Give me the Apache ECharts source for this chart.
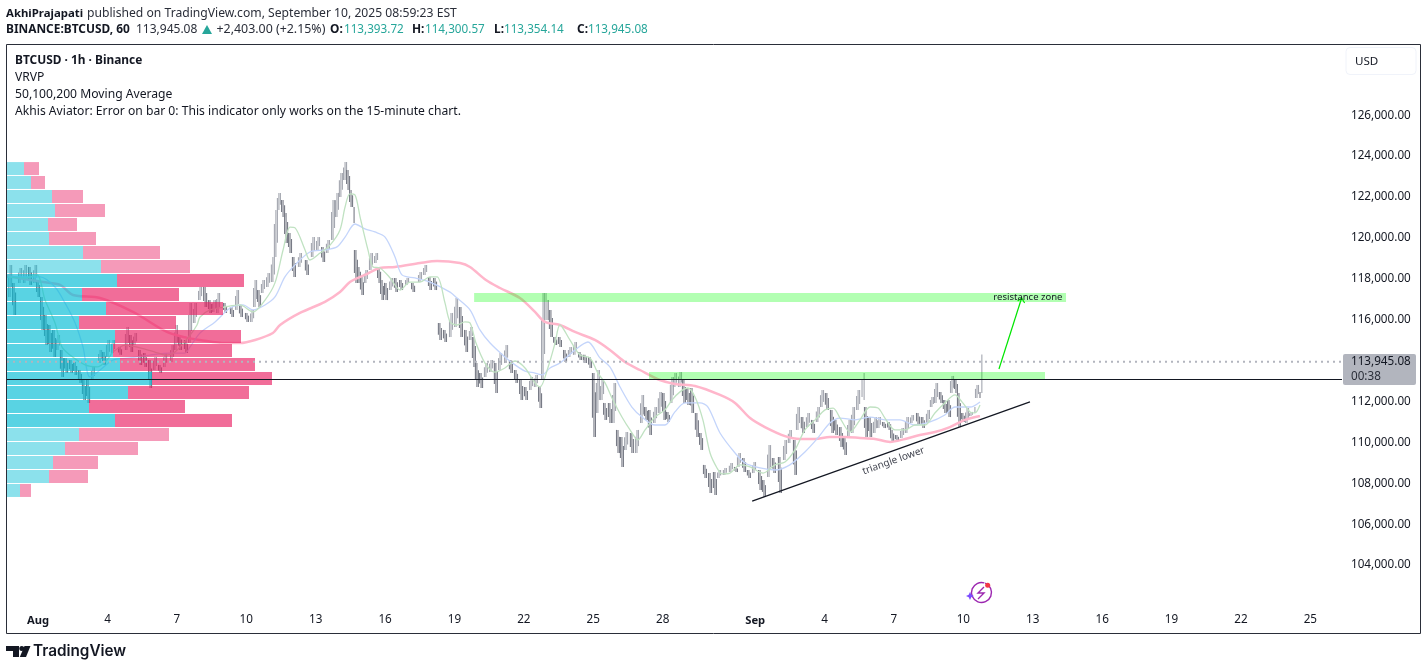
<!DOCTYPE html>
<html>
<head>
<meta charset="utf-8">
<title>BTCUSD</title>
<script src="https://cdn.jsdelivr.net/npm/echarts@6/dist/echarts.min.js"></script>
<style>
html, body { margin: 0; padding: 0; background: #fff; }
#chart { width: 1427px; height: 670px; }
</style>
</head>
<body>
<div id="chart"></div>
<script>
// x axis is days counted from Aug 1, y axis is USD
const xTickDays = [0, 3, 6, 9, 12, 15, 18, 21, 24, 27, 31, 34, 37, 40, 43, 46, 49, 52, 55];
const xTickLabels = ['Aug', '4', '7', '10', '13', '16', '19', '22', '25', '28', 'Sep', '4', '7', '10', '13', '16', '19', '22', '25'];
const yTickValues = [104000, 106000, 108000, 110000, 112000, 116000, 118000, 120000, 122000, 124000, 126000];

// price bars: [day, low, high]
const bars = [
[-1.21,117110,118680],[-1.04,116230,117800],[-0.78,117800,118530],[-0.57,117800,118680],[-0.35,117700,118580],[-0.13,117800,118680],
[0,117110,117940],[0.17,115500,117110],[0.34,114760,116230],[0.51,114420,115740],[0.69,114180,115500],[0.86,114520,115250],
[1.03,113200,114520],[1.21,113390,114130],[1.42,113390,114030],[1.60,113300,113930],[1.81,112910,113540],[1.98,112070,113050],
[2.16,111930,113050],[2.37,113050,113690],[2.68,113880,114520],[2.85,113790,114420],[3.02,114180,115010],[3.24,114370,115010],
[3.54,114280,114670],[3.84,114520,115640],[4.02,114420,115250],[4.19,114760,115350],[4.41,113790,114520],[4.62,113690,114370],
[4.84,112660,114030],[5.05,113540,114180],[5.27,113390,113790],[5.49,113690,114370],[5.79,113930,114760],[5.96,114520,115740],
[6.13,114520,115250],[6.39,114370,115010],[6.57,114860,116820],[6.78,115840,116820],[7.00,116960,117600],[7.22,116620,117600],
[7.43,116330,116960],[7.60,116380,116960],[7.78,116330,117310],[8.08,116330,116820],[8.38,116130,116620],[8.60,116480,117450],
[8.77,116130,116720],[9.03,115890,116330],[9.25,115890,116480],[9.38,116620,117940],[9.55,116620,117450],[9.72,117310,117940],
[9.94,117600,118280],[10.15,117840,119070],[10.28,119070,121370],[10.41,121370,122200],[10.59,121020,121850],[10.72,119750,121220],
[10.89,119260,120240],[11.06,118090,119070],[11.32,118580,119260],[11.62,118190,118920],[11.88,119070,120040],[12.10,119410,120040],
[12.32,118820,119560],[12.53,119260,119900],[12.75,119900,121850],[12.92,121020,122200],[13.09,122000,123170],[13.27,122830,123710],
[13.40,122340,123320],[13.53,121510,122340],[13.66,120730,121510],[13.74,117800,119410],[13.87,117800,118580],[14.00,117210,118090],
[14.17,117800,118430],[14.39,118430,119260],[14.61,118770,119260],[14.74,117800,118580],[14.87,116960,117940],[15.04,116960,117800],
[15.26,117450,118040],[15.47,117350,118040],[15.69,117450,117940],[15.95,117700,118040],[16.21,117350,117800],[16.51,117840,118330],
[16.73,118190,118680],[16.94,117450,118090],[17.16,117450,118040],[17.37,115010,115840],[17.59,114910,115500],[17.85,115150,116330],
[18.07,115640,117060],[18.28,115150,116620],[18.50,114420,115500],[18.71,115010,115640],[18.84,113690,115150],[18.97,112710,113880],
[19.15,112660,113390],[19.36,113200,113880],[19.58,113440,114030],[19.79,112420,113880],[19.97,113540,114370],[20.23,113880,114760],
[20.44,113390,114030],[20.66,112910,113540],[20.88,112070,113050],[21.09,112070,112710],[21.31,112560,113200],[21.52,112710,113300],
[21.70,111680,112710],[21.83,113050,117310],[21.96,115990,117310],[22.05,115990,116960],[22.17,115150,116480],[22.35,114760,115150],
[22.56,114670,115150],[22.78,113930,114520],[22.99,114180,114670],[23.21,114280,114910],[23.43,114030,114420],[23.64,113880,114280],
[23.86,113640,114180],[24.03,110270,113390],[24.20,111440,113540],[24.38,112070,113050],[24.51,111100,111930],[24.72,110950,111930],
[24.90,110950,112910],[25.07,109480,110610],[25.24,108800,110270],[25.42,109630,110510],[25.67,109480,110460],[25.89,109480,110610],
[26.11,110950,112320],[26.28,111100,111730],[26.45,110360,111590],[26.67,110950,111730],[26.88,111440,112470],[27.06,111100,112420],
[27.23,111000,111490],[27.40,111930,113200],[27.53,112710,113390],[27.75,112710,113440],[27.92,111930,113050],[28.09,111830,112660],
[28.27,111440,112660],[28.48,110270,111440],[28.66,109630,110460],[28.83,108260,108900],[29.05,107530,108500],[29.26,107430,108550],
[29.44,108260,108650],[29.69,108410,108750],[29.95,108550,108990],[30.17,108550,108800],[30.30,108800,109480],[30.52,108550,109240],
[30.73,108260,108650],[30.95,108500,109040],[31.21,107670,108650],[31.38,107330,108160],[31.60,108310,109870],[31.81,108500,109240],
[32.07,107530,109290],[32.29,109140,110120],[32.50,109970,110610],[32.72,108410,110120],[32.85,110610,111730],[33.06,110460,111240],
[33.28,110750,111440],[33.50,110460,111100],[33.71,111000,111730],[33.89,111730,112560],[34.10,111590,112420],[34.32,110460,111590],
[34.49,110360,111100],[34.71,109780,110750],[34.88,109380,110270],[35.06,110270,111100],[35.23,110460,111730],[35.45,111590,112560],
[35.62,112220,113050],[35.71,112070,113390],[35.79,110270,111730],[35.97,110270,111240],[36.18,110460,111240],[36.35,110700,111240],
[36.57,110700,111000],[36.79,110610,111000],[36.92,110020,110610],[37.13,110070,110360],[37.35,110220,110700],[37.56,110460,111240],
[37.78,110950,111340],[38.04,110850,111440],[38.25,110700,111240],[38.47,110950,111590],[38.64,111730,112220],[38.82,111930,112910],
[39.03,111930,112470],[39.20,111440,112070],[39.38,111240,112070],[39.51,112420,113250],[39.68,112420,113050],[39.81,110750,112420],
[39.98,111000,111440],[40.16,110950,111680],[40.33,111290,111490],[40.50,111440,111730],[40.59,112170,112810],[40.72,112170,112470],
[40.80,112420,114300]
];

// moving averages: [day, price]
const ma50 = [
[-1.34,118090],[-0.57,118040],[-0.05,118190],[0.30,116960],[0.73,115840],[1.03,114670],[1.38,114270],[2.03,113790],[2.55,113690],[2.98,114030],
[3.24,114420],[3.76,114760],[4.41,114620],[5.05,114420],[5.49,114270],[5.92,114420],[6.57,115250],[6.87,115740],[7.00,116130],[7.43,116480],
[8.08,116620],[8.73,116720],[9.29,116380],[9.81,116960],[10.24,117800],[10.59,119410],[10.89,120530],[11.11,120490],[11.54,119410],[11.75,118920],
[12.19,119260],[12.62,119650],[13.05,120390],[13.27,121510],[13.48,122150],[13.70,122100],[13.92,121020],[14.26,119410],[14.48,118580],[14.78,118530],
[15.22,118040],[15.65,117450],[16.08,117840],[16.51,117840],[16.94,118090],[17.25,118090],[17.59,116820],[17.81,115890],[18.11,115740],[18.45,115890],
[18.67,115840],[18.93,114860],[19.32,113880],[19.75,113440],[20.18,113640],[20.62,113980],[21.05,113640],[21.48,112910],[21.70,112710],[22.05,113690],
[22.35,114860],[22.56,115740],[22.99,115010],[23.43,114270],[23.86,114130],[24.20,113390],[24.51,112910],[24.81,112170],[25.24,111240],[25.59,110610],
[25.93,110120],[26.24,110610],[26.67,111240],[27.10,111590],[27.40,112070],[27.75,112470],[28.09,112660],[28.40,112220],[28.74,111100],[29.05,109480],
[29.35,108750],[29.57,108460],[29.91,108500],[30.35,108900],[30.78,108800],[31.34,108500],[31.86,108900],[32.29,109040],[32.72,109630],[33.15,110610],
[33.59,111100],[34.02,111590],[34.37,111680],[34.67,111190],[35.10,110510],[35.53,111100],[35.97,111730],[36.31,111680],[36.61,111190],[37.05,110610],
[37.48,110610],[37.91,110850],[38.34,110850],[38.77,111440],[39.20,111930],[39.64,112320],[39.94,111980],[40.29,111490],[40.50,111440],[40.72,111830]
];
const ma100 = [
[-1.34,118090],[0.08,118090],[0.73,117600],[1.16,116820],[1.60,115840],[1.94,114670],[2.24,113200],[2.68,113540],[3.24,114030],[3.97,114130],
[4.84,114270],[5.70,114370],[6.35,114370],[6.57,114670],[7.00,115350],[7.65,115890],[8.30,116570],[8.86,116720],[9.29,116480],[9.81,116720],
[10.24,117110],[10.67,118090],[11.11,118680],[11.75,119310],[12.40,119410],[12.92,119560],[13.27,120040],[13.70,120680],[14.13,120440],[14.56,120290],
[15.00,120040],[15.43,119070],[15.73,118190],[16.29,118040],[16.94,117840],[17.81,117350],[18.11,117060],[18.67,116480],[19.10,115500],[19.54,114860],
[20.18,114180],[20.62,113790],[21.05,113490],[21.48,113390],[21.79,113300],[22.13,113640],[22.56,113880],[23.21,114520],[23.77,114910],[24.29,114130],
[24.72,113690],[25.16,112710],[25.67,111730],[26.11,111240],[26.67,110850],[27.10,110850],[27.53,111490],[27.97,111930],[28.61,111930],[28.96,111730],
[29.48,110460],[30.13,109480],[30.56,108990],[31.21,108750],[31.86,108650],[32.50,108900],[33.15,109530],[33.71,110220],[34.23,110950],[34.67,111190],
[35.32,111100],[35.97,111240],[36.61,111100],[37.26,111100],[37.91,110850],[38.56,111000],[39.20,111340],[39.64,111730],[40.29,111730],[40.72,111980]
];
const ma200 = [
[-1.34,118140],[0.21,117840],[0.95,117700],[1.51,117210],[2.68,117060],[4.10,116380],[5.57,115400],[6.44,115110],[7.00,115010],[8.08,114860],
[8.73,114860],[9.38,115010],[10.15,115350],[10.46,115740],[11.32,116330],[12.40,116870],[13.05,117350],[13.48,117840],[14.13,118190],[14.78,118530],
[15.43,118580],[16.51,118770],[17.25,118870],[18.24,118770],[18.67,118580],[19.36,117940],[19.97,117550],[20.83,117060],[21.48,116380],[21.91,115890],
[22.56,115740],[23.21,115400],[24.07,115010],[24.72,114520],[25.37,113930],[26.02,113540],[26.88,113050],[27.53,112860],[28.40,112760],[29.48,112320],
[30.13,111930],[30.78,111190],[31.42,110750],[32.29,110310],[32.94,110170],[33.59,110170],[34.23,110270],[34.88,110270],[35.53,110220],[36.18,110170],
[36.83,110020],[37.48,110170],[38.12,110360],[38.77,110510],[39.42,110750],[40.07,111100],[40.72,111290]
];

// volume profile rows, top row first: row centre price, buy and sell volume in the picture's units
const vpPrices = [123390,122710,122025,121340,120655,119970,119285,118600,117920,117235,116550,115865,115180,114495,113810,113125,112440,111760,111075,110390,109705,109020,108335,107650];
const vpUp = [17,24,45,48,41,42,76,94,110,75,99,72,108,106,113,145,121,82,108,72,58,46,42,13];
const vpDown = [15,14,31,50,29,47,77,89,127,97,117,97,126,119,135,120,121,96,117,90,73,45,39,11];
const vpStep = 684.6;

// drawings on the chart: [startDay, endDay, lowPrice, highPrice]
const zones = [[18.85,44.44,116865,117306],[26.41,43.53,113100,113443]];
const triangleLine = [[30.87,107130],[42.88,111980]];
const arrowLine = [[41.54,113590],[42.52,117060]];
const levelPrice = 113076;
const lastPrice = 113945.08;

const dayMin = -1.345, dayMax = 56.37;
const priceMin = 100680, priceMax = 129481;

const upColor = '#a4a7b0', downColor = '#787b86';
const font = '"Noto Sans", sans-serif';

// the price bars, up bars are lighter than down bars
// each bar is a thin full stick, with two shorter sticks beside it so the band looks hairy like hourly bars
function renderBar(params, api) {
    const i = params.dataIndex;
    const top = api.coord([api.value(0), api.value(2)]);
    const bottom = api.coord([api.value(0), api.value(1)]);
    const color = (i === 0 || bars[i][1] + bars[i][2] > bars[i - 1][1] + bars[i - 1][2]) ? upColor : downColor;
    const len = bottom[1] - top[1];
    const stick = function(x, y, h) {
        return { type: 'rect', shape: { x: x - 0.55, y: y, width: 1.1, height: h }, style: { fill: color } };
    };
    const children = [stick(top[0], top[1], len)];
    let gap = 0;
    if (i < bars.length - 1) {
        gap = api.coord([bars[i + 1][0], 0])[0] - top[0];
    }
    if (gap >= 3) {
        const falling = color === downColor;
        // the side sticks lean with the move: left high and right low when falling
        children.push(stick(top[0] - 1.5, falling ? top[1] : top[1] + len * 0.3, len * 0.7));
        children.push(stick(top[0] + 1.5, falling ? top[1] + len * 0.3 : top[1], len * 0.7));
    }
    return { type: 'group', children: children };
}

// one row of the volume profile: blue part then pink part
function renderProfile(params, api) {
    const i = params.dataIndex;
    const price = vpPrices[i];
    const h = api.size([0, vpStep])[1] - 1;
    const start = api.coord([0, price]);
    const mid = api.coord([vpUp[i], price]);
    const end = api.coord([vpUp[i] + vpDown[i], price]);
    const inValueArea = i >= 8 && i <= 18;
    const alpha = inValueArea ? 0.65 : 0.45;
    return {
        type: 'group',
        children: [
            { type: 'rect', shape: { x: start[0], y: start[1] - h / 2, width: mid[0] - start[0], height: h },
              style: { fill: 'rgba(0,188,212,' + alpha + ')' } },
            { type: 'rect', shape: { x: mid[0], y: start[1] - h / 2, width: end[0] - mid[0], height: h },
              style: { fill: 'rgba(233,30,99,' + alpha + ')' } }
        ]
    };
}

function renderZone(params, api) {
    const a = api.coord([api.value(0), api.value(3)]);
    const b = api.coord([api.value(1), api.value(2)]);
    return {
        type: 'rect',
        shape: { x: a[0], y: a[1], width: b[0] - a[0], height: b[1] - a[1] },
        style: { fill: 'rgba(0,255,0,0.3)' }
    };
}

// green arrow going up to the resistance zone
function renderArrow(params, api) {
    const from = api.coord(arrowLine[0]);
    const to = api.coord(arrowLine[1]);
    const lineStyle = { stroke: '#00e600', lineWidth: 1.2, fill: null };
    return {
        type: 'group',
        children: [
            { type: 'line', shape: { x1: from[0], y1: from[1], x2: to[0], y2: to[1] }, style: lineStyle },
            { type: 'polyline', shape: { points: [[to[0] - 4, to[1] + 3], to, [to[0] + 3, to[1] + 5]] }, style: lineStyle }
        ]
    };
}

function renderNotes(params, api) {
    const r = api.coord([42.79, 117086]);
    const t = api.coord([36.98, 109100]);
    return {
        type: 'group',
        children: [
            { type: 'text', x: r[0], y: r[1], style: { text: 'resistance zone', fill: '#131722', font: '9.5px ' + font, align: 'center', verticalAlign: 'middle' } },
            { type: 'text', x: t[0], y: t[1], rotation: 0.342, style: { text: 'triangle lower', fill: '#434651', font: '10px ' + font, align: 'center', verticalAlign: 'middle' } }
        ]
    };
}

function txt(x, y, text, size, color, weight) {
    return {
        type: 'text', x: x, y: y + 0.8, silent: true,
        style: {
            text: text, fill: color, verticalAlign: 'middle',
            font: (weight || 'normal') + ' ' + size + 'px ' + font
        }
    };
}

const dark = '#131722', teal = '#26a69a';
const graphicItems = [
    // outer frame of the chart
    { type: 'rect', shape: { x: 6.5, y: 44.5, width: 1414, height: 589 }, style: { fill: null, stroke: '#2a2e39', lineWidth: 1 }, silent: true },
    // header lines
    txt(6, 12.5, 'AkhiPrajapati', 11.4, dark, 'bold'),
    txt(87, 12.5, 'published on TradingView.com, September 10, 2025 08:59:23 EST', 12.15, '#2a2e39'),
    txt(6, 29, 'BINANCE:BTCUSD, 60', 11.9, dark, 'bold'),
    txt(136, 29, '113,945.08', 12, '#2a2e39'),
    { type: 'polygon', shape: { points: [[202, 34], [207, 25], [212, 34]] }, style: { fill: teal }, silent: true },
    txt(216.5, 29, '+2,403.00 (+2.15%)', 12.4, '#2a2e39'),
    txt(330, 29, 'O:', 11.9, dark, 'bold'), txt(344, 29, '113,393.72', 11.7, teal),
    txt(412, 29, 'H:', 11.9, dark, 'bold'), txt(425, 29, '114,300.57', 11.7, teal),
    txt(494, 29, 'L:', 11.9, dark, 'bold'), txt(504, 29, '113,354.14', 11.7, teal),
    txt(577, 29, 'C:', 11.9, dark, 'bold'), txt(588, 29, '113,945.08', 11.7, teal),
    // legend on the chart
    txt(15, 60, 'BTCUSD · 1h · Binance', 11.9, dark, 'bold'),
    txt(15, 77, 'VRVP', 12.15, dark),
    txt(15, 94, '50,100,200 Moving Average', 12.15, dark),
    txt(15, 111, 'Akhis Aviator: Error on bar 0: This indicator only works on the 15-minute chart.', 12.15, dark),
    // currency box
    { type: 'rect', shape: { x: 1346, y: 47.5, width: 70, height: 27, r: 4 }, style: { fill: '#fff', stroke: '#f0f3fa', lineWidth: 1 }, silent: true },
    txt(1355, 60.5, 'USD', 11.6, dark),
    // last price tag
    { type: 'rect', z: 20, shape: { x: 1343, y: 354, width: 73, height: 31, r: 2 }, style: { fill: '#b2b5be' }, silent: true },
    Object.assign(txt(1351, 361, '113,945.08', 11.7, dark), { z: 21 }),
    Object.assign(txt(1351, 375.5, '00:38', 11.7, '#2a2e39'), { z: 21 }),
    // little flash icon
    { type: 'arc', shape: { cx: 981.5, cy: 592.5, r: 10, startAngle: -1.2, endAngle: 5.0 }, style: { fill: null, stroke: '#9c27b0', lineWidth: 1.4 }, silent: true },
    { type: 'polyline', shape: { points: [[984, 587], [978, 593], [984, 593], [978, 599]] }, style: { fill: null, stroke: '#9c27b0', lineWidth: 1.4 }, silent: true },
    { type: 'polygon', shape: { points: [[970, 592], [971.3, 594.7], [974, 596], [971.3, 597.3], [970, 600], [968.7, 597.3], [966, 596], [968.7, 594.7]] }, style: { fill: '#7c4dff' }, silent: true },
    { type: 'circle', shape: { cx: 987.7, cy: 585.3, r: 2.5 }, style: { fill: '#f23645' }, silent: true },
    // TradingView mark at the bottom
    { type: 'polygon', shape: { points: [[6, 646], [19, 646], [19, 657], [13, 657], [13, 651], [6, 651]] }, style: { fill: dark }, silent: true },
    { type: 'circle', shape: { cx: 21.8, cy: 648.5, r: 2.5 }, style: { fill: dark }, silent: true },
    { type: 'polygon', shape: { points: [[24.5, 646], [30.5, 646], [26, 657], [19.8, 657]] }, style: { fill: dark }, silent: true },
    { type: 'text', x: 33, y: 651.5, silent: true, style: { text: 'TradingView', fill: dark, verticalAlign: 'middle', font: '600 15.3px Inter, sans-serif' } }
];

const chart = echarts.init(document.getElementById('chart'));
const option = {
    animation: false,
    backgroundColor: '#fff',
    grid: { left: 7, right: 85, top: 44, bottom: 37, containLabel: false },
    graphic: { elements: graphicItems },
    xAxis: [
        {
            type: 'value', min: dayMin, max: dayMax,
            axisLine: { show: false }, axisTick: { show: false }, splitLine: { show: false },
            axisLabel: {
                inside: true, margin: 7, color: dark, fontSize: 11.7, fontFamily: font,
                customValues: xTickDays,
                formatter: function(v) {
                    const label = xTickLabels[xTickDays.indexOf(v)];
                    return (label === 'Aug' || label === 'Sep') ? '{month|' + label + '}' : label;
                },
                rich: { month: { fontWeight: 'bold', fontSize: 11.2, fontFamily: font, color: dark } }
            }
        },
        // hidden axis for the volume profile widths
        { type: 'value', min: 0, max: 1335, show: false }
    ],
    yAxis: {
        type: 'value', position: 'right', min: priceMin, max: priceMax, scale: true,
        axisLine: { show: false }, axisTick: { show: false }, splitLine: { show: false },
        axisLabel: {
            margin: 9, color: dark, fontSize: 11.7, fontFamily: font,
            customValues: yTickValues,
            formatter: function(v) {
                return v.toLocaleString('en-US', { minimumFractionDigits: 2 });
            }
        }
    },
    series: [
        { type: 'custom', name: 'BTCUSD', z: 2, renderItem: renderBar, data: bars, encode: { x: 0, y: [1, 2] }, silent: true },
        { type: 'line', name: 'MA200', z: 3, data: ma200, smooth: 0.3, showSymbol: false, silent: true, lineStyle: { color: '#ffb6cb', width: 2.5 } },
        { type: 'line', name: 'MA100', z: 3, data: ma100, smooth: 0.3, showSymbol: false, silent: true, lineStyle: { color: '#c4d5fb', width: 1.3 } },
        { type: 'line', name: 'MA50', z: 3, data: ma50, smooth: 0.3, showSymbol: false, silent: true, lineStyle: { color: '#c0e2c2', width: 1.3 } },
        { type: 'custom', name: 'zones', z: 4, renderItem: renderZone, data: zones, encode: { x: [0, 1], y: [2, 3] }, silent: true },
        { type: 'custom', name: 'VRVP', z: 5, xAxisIndex: 1, renderItem: renderProfile, data: vpPrices.map(function(p) { return [0, p]; }), silent: true },
        { type: 'line', name: 'triangle', z: 6, data: triangleLine, showSymbol: false, silent: true, lineStyle: { color: '#131722', width: 1.2 } },
        { type: 'line', name: 'level', z: 6, data: [[dayMin, levelPrice], [dayMax, levelPrice]], showSymbol: false, silent: true, lineStyle: { color: '#131722', width: 1.2 } },
        { type: 'line', name: 'last', z: 6, data: [[dayMin, lastPrice], [dayMax, lastPrice]], showSymbol: false, silent: true, lineStyle: { color: '#b2b5be', width: 2, type: [2, 4] } },
        { type: 'custom', name: 'arrow', z: 6, renderItem: renderArrow, data: [[0, 0]], silent: true, clip: false },
        { type: 'custom', name: 'notes', z: 7, renderItem: renderNotes, data: [[0, 0]], silent: true, clip: false }
    ]
};
chart.setOption(option);
</script>
</body>
</html>
